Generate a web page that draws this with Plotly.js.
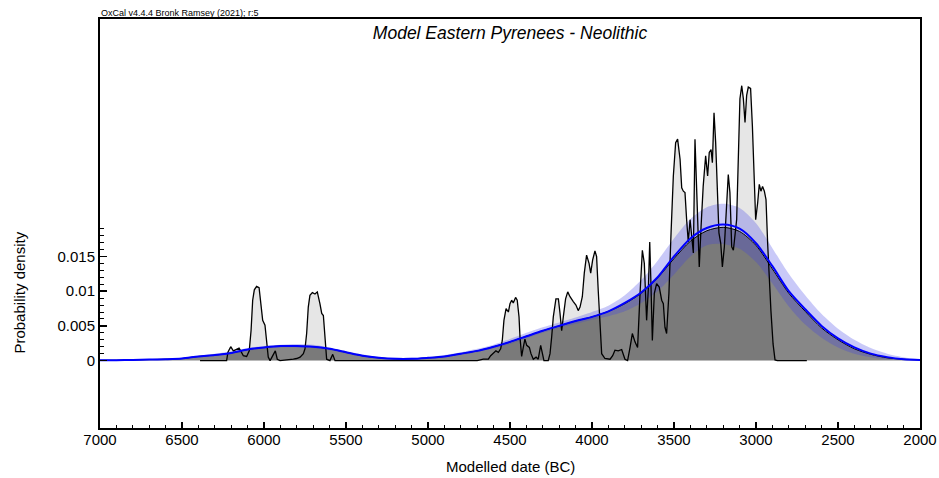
<!DOCTYPE html>
<html>
<head>
<meta charset="utf-8">
<script src="https://cdn.plot.ly/plotly-3.0.1.min.js"></script>
<style>
  html, body { margin: 0; padding: 0; background: #ffffff; }
  #chart { width: 939px; height: 478px; }
</style>
</head>
<body>
<div id="chart"></div>
<script>
// Summed probability of the calibrated dates (years BC, density)
const spdYears = [
  6390, 6300, 6228, 6220, 6203, 6187, 6167, 6152, 6142, 6126, 6106, 6090, 6079, 6069, 6059, 6045, 6030, 6020, 6008, 5994,
  5984, 5974, 5963, 5943, 5931, 5919, 5902, 5862, 5841, 5821, 5801, 5780, 5760, 5750, 5740, 5730, 5720, 5705, 5689, 5675,
  5659, 5648, 5638, 5628, 5618, 5598, 5581, 5567, 4700, 4663, 4632, 4618, 4602, 4586, 4571, 4557, 4547, 4537, 4524, 4510,
  4500, 4490, 4480, 4466, 4456, 4445, 4439, 4429, 4419, 4409, 4398, 4382, 4372, 4358, 4341, 4328, 4313, 4301, 4293, 4267,
  4256, 4246, 4236, 4220, 4205, 4195, 4185, 4175, 4161, 4148, 4134, 4114, 4098, 4084, 4073, 4059, 4047, 4033, 4018, 4008,
  3996, 3982, 3972, 3962, 3951, 3941, 3921, 3890, 3874, 3860, 3840, 3819, 3799, 3783, 3768, 3754, 3738, 3722, 3707, 3693,
  3681, 3667, 3656, 3648, 3640, 3632, 3620, 3606, 3590, 3575, 3565, 3555, 3545, 3531, 3518, 3504, 3490, 3478, 3463, 3453,
  3443, 3433, 3423, 3413, 3402, 3392, 3382, 3372, 3356, 3346, 3335, 3322, 3307, 3295, 3285, 3274, 3266, 3256, 3246, 3236,
  3226, 3215, 3205, 3193, 3183, 3169, 3159, 3148, 3138, 3128, 3118, 3108, 3098, 3087, 3077, 3067, 3057, 3047, 3033, 3022,
  3013, 3002, 2990, 2980, 2970, 2960, 2949, 2939, 2929, 2921, 2909, 2896, 2884, 2870, 2690
];
const spdDensity = [
  0, 0, 0, 0.0012, 0.0020, 0.0014, 0.0017, 0.0018, 0.0014, 0.0007, 0.0006, 0.0014, 0.0043, 0.0087, 0.0102, 0.0107, 0.0105, 0.0087, 0.0058, 0.0051,
  0.0031, 0.0005, 0, 0.0009, 0.0014, 0.0002, 0, 0.0001, 0.0001, 0.0002, 0.0003, 0.0005, 0.0010, 0.0017, 0.0039, 0.0077, 0.0094, 0.0098, 0.0096, 0.0099,
  0.0082, 0.0068, 0.0065, 0.0029, 0.0002, 0, 0.0009, 0, 0, 0.0002, 0.0002, 0.0007, 0.0010, 0.0014, 0.0012, 0.0017, 0.0029, 0.0058, 0.0075, 0.0070,
  0.0082, 0.0087, 0.0083, 0.0091, 0.0087, 0.0063, 0.0034, 0.0006, 0.0019, 0.0031, 0.0022, 0.0019, 0.0010, 0.0002, 0.0005, 0.0002, 0.0022, 0.0011, 0, 0,
  0.0010, 0.0034, 0.0063, 0.0089, 0.0089, 0.0068, 0.0043, 0.0063, 0.0089, 0.0099, 0.0092, 0.0085, 0.0080, 0.0072, 0.0077, 0.0092, 0.0126, 0.0152, 0.0140, 0.0126,
  0.0145, 0.0158, 0.0150, 0.0101, 0.0053, 0.0010, 0.0003, 0.0002, 0.0007, 0.0015, 0.0014, 0.0016, 0.0002, 0, 0.0019, 0.0039, 0.0027, 0.0019, 0.0097, 0.0159,
  0.0140, 0.0058, 0.0106, 0.0171, 0.0106, 0.0029, 0.0097, 0.0111, 0.0106, 0.0087, 0.0082, 0.0048, 0.0039, 0.0097, 0.0184, 0.0266, 0.0314, 0.0319, 0.0290, 0.0249,
  0.0244, 0.0242, 0.0203, 0.0171, 0.0203, 0.0174, 0.0155, 0.0319, 0.0193, 0.0135, 0.0193, 0.0251, 0.0295, 0.0266, 0.0300, 0.0304, 0.0285, 0.0357, 0.0314, 0.0232,
  0.0184, 0.0169, 0.0135, 0.0164, 0.0208, 0.0268, 0.0242, 0.0164, 0.0159, 0.0179, 0.0203, 0.0290, 0.0377, 0.0396, 0.0377, 0.0343, 0.0382, 0.0394, 0.0392, 0.0338,
  0.0275, 0.0203, 0.0227, 0.0254, 0.0244, 0.0251, 0.0244, 0.0232, 0.0169, 0.0126, 0.0072, 0.0024, 0.0001, 0, 0
];

// Kernel density model on a 100-year grid
const kdeYears = [
  7000, 6900, 6800, 6700, 6600, 6500, 6400, 6300, 6200, 6100, 6000, 5900, 5800, 5700, 5600, 5500, 5400,
  5300, 5200, 5100, 5000, 4900, 4800, 4700, 4600, 4500, 4400, 4300, 4200, 4100, 4000, 3900, 3800,
  3700, 3600, 3500, 3400, 3300, 3200, 3100, 3000, 2900, 2800, 2700, 2600, 2500, 2400, 2300, 2200, 2100, 2000
];
const kdeMean = [
  0.00005, 0.00005, 0.0001, 0.00015, 0.0002, 0.0003, 0.0006, 0.0008, 0.0011, 0.0016, 0.0019, 0.0021, 0.0021, 0.0020, 0.0017, 0.0012, 0.0007,
  0.0004, 0.00025, 0.00025, 0.0004, 0.0006, 0.0010, 0.0014, 0.0020, 0.0027, 0.0035, 0.0043, 0.0050, 0.0057, 0.0063, 0.0071, 0.0083,
  0.0098, 0.0120, 0.0150, 0.0176, 0.0191, 0.0196, 0.0190, 0.0169, 0.0136, 0.0100, 0.0074, 0.0050, 0.0032, 0.0019, 0.0010, 0.0005, 0.0002, 0.0001
];
const kdeLower = [
  0, 0, 0.00005, 0.0001, 0.00015, 0.0002, 0.0005, 0.0007, 0.0010, 0.0014, 0.0017, 0.0019, 0.0019, 0.0018, 0.0015, 0.0011, 0.0006,
  0.0003, 0.0002, 0.0002, 0.0003, 0.0005, 0.0008, 0.0012, 0.0018, 0.0024, 0.0032, 0.0040, 0.0047, 0.0053, 0.0059, 0.0064, 0.0071,
  0.0083, 0.0100, 0.0124, 0.0150, 0.0166, 0.0168, 0.0161, 0.0142, 0.0111, 0.0078, 0.0052, 0.0033, 0.0019, 0.0010, 0.0005, 0.0002, 0.0001, 0
];
const kdeUpper = [
  0.0001, 0.0001, 0.00015, 0.0002, 0.0003, 0.0004, 0.0007, 0.0010, 0.0013, 0.0018, 0.0021, 0.0023, 0.0024, 0.0023, 0.0019, 0.0014, 0.0009,
  0.0005, 0.0004, 0.0004, 0.0005, 0.0008, 0.0012, 0.0017, 0.0023, 0.0031, 0.0040, 0.0048, 0.0055, 0.0062, 0.0070, 0.0079, 0.0094,
  0.0116, 0.0144, 0.0176, 0.0204, 0.0221, 0.0226, 0.0220, 0.0198, 0.0162, 0.0125, 0.0094, 0.0067, 0.0046, 0.0030, 0.0018, 0.0010, 0.0005, 0.0002
];
const kdeModel = [
  0.00005, 0.00005, 0.0001, 0.00015, 0.0002, 0.0003, 0.0006, 0.0008, 0.0011, 0.0016, 0.0019, 0.0021, 0.0021, 0.0020, 0.0017, 0.0012, 0.0007,
  0.0004, 0.00025, 0.00025, 0.0004, 0.0006, 0.0010, 0.0014, 0.0020, 0.0027, 0.0035, 0.0043, 0.0050, 0.0057, 0.0063, 0.0071, 0.0082,
  0.0097, 0.0119, 0.0147, 0.0172, 0.0187, 0.0192, 0.0186, 0.0166, 0.0132, 0.0097, 0.0071, 0.0047, 0.0030, 0.0017, 0.0009, 0.0004, 0.0002, 0.0001
];

// Axis ticks
const xTickVals = [7000, 6500, 6000, 5500, 5000, 4500, 4000, 3500, 3000, 2500, 2000];
const xTickText = ['7000', '6500', '6000', '5500', '5000', '4500', '4000', '3500', '3000', '2500', '2000'];
const yTickVals = [0, 0.005, 0.01, 0.015];
const yTickText = ['0', '0.005', '0.01', '0.015'];
const yMinorTicks = [0.001, 0.002, 0.003, 0.004, 0.006, 0.007, 0.008, 0.009, 0.011, 0.012, 0.013, 0.014,
  0.016, 0.017, 0.018, 0.019];

const FONT = 'Liberation Sans, Arial, Helvetica, sans-serif';

const traces = [
  // light grey area under the summed distribution
  { x: spdYears, y: spdDensity, type: 'scatter', mode: 'lines', fill: 'tozeroy',
    fillcolor: '#e6e6e6', line: { width: 0, color: 'rgba(0,0,0,0)' }, hoverinfo: 'skip' },
  // dark grey area under the kernel density model
  { x: kdeYears, y: kdeModel, type: 'scatter', mode: 'lines', fill: 'tozeroy',
    fillcolor: 'rgba(0,0,0,0.47)', line: { width: 0, color: 'rgba(0,0,0,0)', shape: 'spline', smoothing: 0.8 },
    hoverinfo: 'skip' },
  // ±1σ band of the model
  { x: kdeYears, y: kdeLower, type: 'scatter', mode: 'lines',
    line: { width: 0, color: 'rgba(0,0,0,0)', shape: 'spline', smoothing: 0.8 }, hoverinfo: 'skip' },
  { x: kdeYears, y: kdeUpper, type: 'scatter', mode: 'lines', fill: 'tonexty',
    fillcolor: 'rgba(60,60,230,0.28)', line: { width: 0, color: 'rgba(0,0,0,0)', shape: 'spline', smoothing: 0.8 },
    hoverinfo: 'skip' },
  // outline of the summed distribution
  { x: spdYears, y: spdDensity, type: 'scatter', mode: 'lines',
    line: { width: 1.3, color: '#000000' }, hoverinfo: 'skip' },
  // model outline
  { x: kdeYears, y: kdeModel, type: 'scatter', mode: 'lines',
    line: { width: 1, color: '#000000', shape: 'spline', smoothing: 0.8 }, hoverinfo: 'skip' },
  // mean of the model
  { x: kdeYears, y: kdeMean, type: 'scatter', mode: 'lines',
    line: { width: 2, color: '#0000ff', shape: 'spline', smoothing: 0.8 }, hoverinfo: 'skip' }
];

const layout = {
  width: 939,
  height: 478,
  margin: { l: 100, r: 19, t: 19, b: 50 },
  paper_bgcolor: '#ffffff',
  plot_bgcolor: '#ffffff',
  showlegend: false,
  font: { family: FONT, color: '#000000', size: 15 },
  title: {
    text: 'Model Eastern Pyrenees - Neolithic',
    font: { family: FONT, size: 17.5, style: 'italic', color: '#000000' },
    x: 0.5, xref: 'paper', xanchor: 'center',
    y: 0.931, yref: 'container', yanchor: 'middle'
  },
  xaxis: {
    range: [7000, 2000],
    tickmode: 'array', tickvals: xTickVals, ticktext: xTickText,
    ticks: 'inside', ticklen: 6, tickwidth: 1.5, tickcolor: '#000000',
    ticklabelstandoff: -3,
    minor: { tickmode: 'linear', tick0: 0, dtick: 100, ticks: 'inside', ticklen: 3, tickwidth: 1, tickcolor: '#000000', showgrid: false },
    showline: true, linewidth: 2, linecolor: '#000000', mirror: true,
    showgrid: false, zeroline: false,
    tickfont: { family: FONT, size: 15, color: '#000000' }
  },
  yaxis: {
    range: [-0.00971, 0.04921],
    tickmode: 'array', tickvals: yTickVals, ticktext: yTickText,
    ticks: 'inside', ticklen: 7, tickwidth: 1.5, tickcolor: '#000000',
    minor: { tickmode: 'array', tickvals: yMinorTicks, ticks: 'inside', ticklen: 4, tickwidth: 1, tickcolor: '#000000', showgrid: false },
    showline: true, linewidth: 2, linecolor: '#000000', mirror: true,
    showgrid: false, zeroline: false,
    tickfont: { family: FONT, size: 15, color: '#000000' }
  },
  annotations: [
    { text: 'OxCal v4.4.4 Bronk Ramsey (2021); r:5', xref: 'paper', yref: 'paper',
      x: 0, y: 1, xanchor: 'left', yanchor: 'bottom', showarrow: false,
      font: { family: FONT, size: 9, color: '#000000' }, borderpad: 0 },
    { text: 'Probability density', xref: 'paper', yref: 'y',
      x: -80 / 820, y: 0.0098, xanchor: 'center', yanchor: 'middle', textangle: -90,
      showarrow: false, font: { family: FONT, size: 15, color: '#000000' } },
    { text: 'Modelled date (BC)', xref: 'paper', yref: 'paper',
      x: 0.5, y: -38 / 409, xanchor: 'center', yanchor: 'middle',
      showarrow: false, font: { family: FONT, size: 15, color: '#000000' } }
  ]
};

Plotly.newPlot('chart', traces, layout, { staticPlot: true, displayModeBar: false });
</script>
</body>
</html>
